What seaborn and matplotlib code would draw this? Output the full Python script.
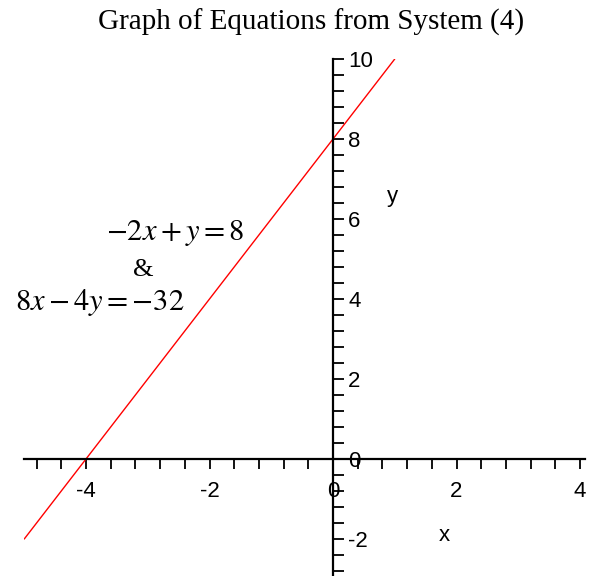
import matplotlib
matplotlib.use('Agg')
import matplotlib.pyplot as plt
from matplotlib.ticker import MultipleLocator
import seaborn as sns
import pandas as pd

# donnees : droite y = 2x + 8 (systeme 4)
x_vals = [-5, 1]
y_vals = [-2, 10]
x_major = [-4, -2, 0, 2, 4]
y_major = [-2, 0, 2, 4, 6, 8, 10]
eq1 = r"$-2x+y=8$"
eq2 = "&"
eq3 = r"$8x-4y=-32$"
title = "Graph of Equations from System (4)"

df = pd.DataFrame({"x": x_vals, "y": y_vals})

sns.set_style("white", {"xtick.bottom": True, "ytick.left": True,
                        "text.color": "black", "axes.labelcolor": "black",
                        "xtick.color": "black", "ytick.color": "black",
                        "axes.edgecolor": "black"})
plt.rcParams['font.family'] = ['Liberation Sans', 'DejaVu Sans']
plt.rcParams['axes.unicode_minus'] = False
plt.rcParams['mathtext.fontset'] = 'stix'

fig = plt.figure(figsize=(5.94, 5.76), dpi=100)
ax = fig.add_axes([0.0408, 0.0, 0.944, 0.8976])

sns.lineplot(data=df, x="x", y="y", color="red", linewidth=1.0, ax=ax)

ax.set_xlim(-5.0, 4.08)
ax.set_ylim(-2.925, 10.0)

# axes qui se croisent a l'origine
for s in ["top", "right"]:
    ax.spines[s].set_visible(False)
ax.spines["left"].set_position(("data", 0))
ax.spines["bottom"].set_position(("data", 0))
ax.spines["left"].set_linewidth(1.6)
ax.spines["bottom"].set_linewidth(1.6)

ax.set_xticks(x_major)
ax.set_yticks(y_major)
ax.xaxis.set_minor_locator(MultipleLocator(0.4))
ax.yaxis.set_minor_locator(MultipleLocator(0.4))
ax.tick_params(axis="x", which="both", bottom=True, direction="out", length=7,
               width=1.3, labelsize=16, pad=9, colors="black")
ax.tick_params(axis="y", which="both", left=True, direction="in", length=8,
               width=1.3, labelsize=16, pad=-11, colors="black")
for lbl in ax.get_yticklabels():
    lbl.set_horizontalalignment("left")

ax.set_xlabel("x", fontsize=16, color="black")
ax.set_ylabel("y", fontsize=16, rotation=0, color="black")
ax.xaxis.set_label_coords(1.81, -1.65, transform=ax.transData)
ax.yaxis.set_label_coords(0.97, 6.3, transform=ax.transData)

ax.text(-2.56, 5.65, eq1, fontsize=22, ha="center", va="center", color="black")
ax.text(-3.08, 4.73, eq2, fontsize=19, ha="center", va="center",
        family="Liberation Serif", color="black")
ax.text(-3.77, 3.9, eq3, fontsize=22, ha="center", va="center", color="black")

fig.text(311 / 594, 0.962, title, fontsize=21, ha="center", va="center",
         family="Liberation Serif", color="black")

plt.savefig("out.png", dpi=100)
